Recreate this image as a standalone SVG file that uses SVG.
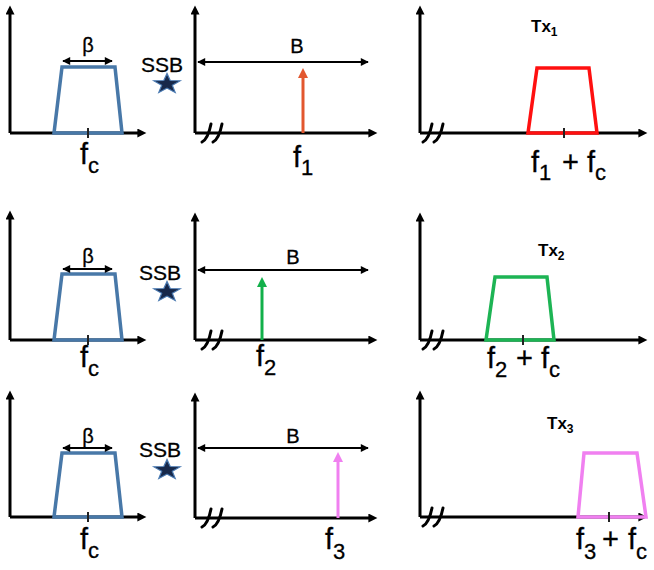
<svg xmlns="http://www.w3.org/2000/svg" xmlns:xlink="http://www.w3.org/1999/xlink" width="654" height="570" viewBox="0 0 654 570">
<style>
text{font-family:"Liberation Sans",Arial,sans-serif;fill:#000;stroke:#000;stroke-width:0.3}
.ax{stroke:#000;stroke-width:3;fill:none;marker-end:url(#axh)}
.dbl{stroke:#000;stroke-width:2;fill:none;marker-start:url(#dh);marker-end:url(#dh)}
.brk{stroke:#000;stroke-width:3;fill:none;stroke-linecap:round}
.tick{stroke:#222;stroke-width:2}
.trb{fill:none;stroke:#4878a8;stroke-width:3.5;stroke-linejoin:miter}
.fl{font-size:29px}
.sub{font-size:22px}
.ssb{font-size:21px}
.bl{font-size:20px}
.tx{font-size:17px;font-weight:bold;stroke-width:0}
.txs{font-size:12px}
.star{fill:#17284a;stroke:#4a7ab2;stroke-width:1.3}
</style>
<defs>
<marker id="axh" viewBox="0 0 10 10" refX="4" refY="5" markerWidth="10" markerHeight="9" markerUnits="userSpaceOnUse" orient="auto"><path d="M0,0 L10,5 L0,10 z" fill="#000"/></marker>
<marker id="dh" viewBox="0 0 10 10" refX="9" refY="5" markerWidth="9" markerHeight="8" markerUnits="userSpaceOnUse" orient="auto-start-reverse"><path d="M0,0 L10,5 L0,10 z" fill="#000"/></marker>
<marker id="hr" viewBox="0 0 10 10" refX="4" refY="5" markerWidth="11" markerHeight="10" markerUnits="userSpaceOnUse" orient="auto"><path d="M0,0 L10,5 L0,10 z" fill="#e2572f"/></marker>
<marker id="hg" viewBox="0 0 10 10" refX="4" refY="5" markerWidth="11" markerHeight="10" markerUnits="userSpaceOnUse" orient="auto"><path d="M0,0 L10,5 L0,10 z" fill="#12b04a"/></marker>
<marker id="hp" viewBox="0 0 10 10" refX="4" refY="5" markerWidth="11" markerHeight="10" markerUnits="userSpaceOnUse" orient="auto"><path d="M0,0 L10,5 L0,10 z" fill="#f080f0"/></marker>
<path id="brkp" class="brk" d="M-5,9 Q1,6 4,-9 M6,9 Q12,6 15,-9"/>
<polygon id="starp" class="star" points="0,-14 3.3,-4.5 13.3,-4.3 5.3,1.7 8.2,11.3 0,5.6 -8.2,11.3 -5.3,1.7 -13.3,-4.3 -3.3,-4.5"/>
</defs>

<!-- Row 1 -->
<g id="r1-baseband">
<path class="ax" d="M10,133 V11"/>
<path class="ax" d="M10,133 H141"/>
<polygon class="trb" points="54,133 62,67 115,67 122,133"/>
<line class="tick" x1="88" y1="128" x2="88" y2="138"/>
<line class="dbl" x1="63" y1="61" x2="112" y2="61"/>
<text class="bl" x="88" y="52" text-anchor="middle">β</text>
<text class="fl" x="80" y="164">f<tspan class="sub" dy="9">c</tspan></text>
</g>
<g id="r1-ssb">
<text class="ssb" x="141" y="72">SSB</text>
<use xlink:href="#starp" href="#starp" transform="translate(167,84) scale(1,0.75)"/>
</g>
<g id="r1-lo">
<path class="ax" d="M195,133 V11"/>
<path class="ax" d="M195,133 H372"/>
<use xlink:href="#brkp" href="#brkp" x="207" y="133"/>
<line class="dbl" x1="198" y1="62" x2="368" y2="62"/>
<text class="bl" x="297" y="53" text-anchor="middle">B</text>
<text class="fl" x="293" y="167">f<tspan class="sub" dy="8">1</tspan></text>
</g>
<g id="r1-tx">
<path class="ax" d="M420,133 V11"/>
<path class="ax" d="M420,133 H642"/>
<use xlink:href="#brkp" href="#brkp" x="428" y="133"/>
<polygon points="528,133 537,68 589,68 597,133" fill="none" stroke="#ff1010" stroke-width="3.5"/>
<line class="tick" x1="564" y1="128" x2="564" y2="138"/>
<text class="tx" x="531" y="32">Tx<tspan class="txs" dy="4">1</tspan></text>
<text class="fl" x="531" y="172">f<tspan class="sub" dy="8">1</tspan><tspan dy="-8" x="562">+</tspan><tspan x="587">f</tspan><tspan class="sub" dy="8">c</tspan></text>
</g>

<!-- Row 2 -->
<g id="r2-baseband">
<path class="ax" d="M10,340 V216"/>
<path class="ax" d="M10,340 H141"/>
<polygon class="trb" points="54,340 62,274 115,274 122,340"/>
<line class="tick" x1="88" y1="335" x2="88" y2="345"/>
<line class="dbl" x1="63" y1="269" x2="112" y2="269"/>
<text class="bl" x="88" y="263" text-anchor="middle">β</text>
<text class="fl" x="80" y="367">f<tspan class="sub" dy="9">c</tspan></text>
</g>
<g id="r2-ssb">
<text class="ssb" x="139" y="280">SSB</text>
<use xlink:href="#starp" href="#starp" transform="translate(167,292) scale(1,0.75)"/>
</g>
<g id="r2-lo">
<path class="ax" d="M195,340 V218"/>
<path class="ax" d="M195,340 H372"/>
<use xlink:href="#brkp" href="#brkp" x="207" y="340"/>
<line class="dbl" x1="198" y1="270" x2="368" y2="270"/>
<text class="bl" x="293" y="264" text-anchor="middle">B</text>
<text class="fl" x="256" y="366">f<tspan class="sub" dy="9">2</tspan></text>
</g>
<g id="r2-tx">
<path class="ax" d="M420,340 V218"/>
<path class="ax" d="M420,340 H642"/>
<use xlink:href="#brkp" href="#brkp" x="428" y="340"/>
<polygon points="486,340 495,277 547,277 554,340" fill="none" stroke="#1db454" stroke-width="3.5"/>
<line class="tick" x1="523" y1="335" x2="523" y2="345"/>
<text class="tx" x="538" y="256">Tx<tspan class="txs" dy="4">2</tspan></text>
<text class="fl" x="487" y="368">f<tspan class="sub" dy="9">2</tspan><tspan dy="-9" x="516">+</tspan><tspan x="541">f</tspan><tspan class="sub" dy="9">c</tspan></text>
</g>

<!-- Row 3 -->
<g id="r3-baseband">
<path class="ax" d="M10,517 V396"/>
<path class="ax" d="M10,517 H141"/>
<polygon class="trb" points="54,517 62,453 115,453 122,517"/>
<line class="tick" x1="88" y1="512" x2="88" y2="522"/>
<line class="dbl" x1="63" y1="448" x2="112" y2="448"/>
<text class="bl" x="88" y="443" text-anchor="middle">β</text>
<text class="fl" x="80" y="549">f<tspan class="sub" dy="9">c</tspan></text>
</g>
<g id="r3-ssb">
<text class="ssb" x="139" y="457">SSB</text>
<use xlink:href="#starp" href="#starp" transform="translate(167,470) scale(1,0.75)"/>
</g>
<g id="r3-lo">
<path class="ax" d="M195,518 V398"/>
<path class="ax" d="M195,518 H372"/>
<use xlink:href="#brkp" href="#brkp" x="207" y="518"/>
<line class="dbl" x1="198" y1="448" x2="368" y2="448"/>
<text class="bl" x="293" y="443" text-anchor="middle">B</text>
<text class="fl" x="325" y="549">f<tspan class="sub" dy="10">3</tspan></text>
</g>
<g id="r3-tx">
<path class="ax" d="M420,517 V396"/>
<path class="ax" d="M420,517 H642"/>
<use xlink:href="#brkp" href="#brkp" x="428" y="517"/>
<polygon points="578,517 584,453 637,453 646,517" fill="none" stroke="#f080f0" stroke-width="3.5"/>
<line class="tick" x1="609" y1="512" x2="609" y2="522"/>
<text class="tx" x="547" y="429">Tx<tspan class="txs" dy="4">3</tspan></text>
<text class="fl" x="576" y="549">f<tspan class="sub" dy="10">3</tspan><tspan dy="-10" x="602">+</tspan><tspan x="628">f</tspan><tspan class="sub" dy="10">c</tspan></text>
</g>

<g id="connectors">
<path d="M303,133 V74" stroke="#e2572f" stroke-width="3" fill="none" marker-end="url(#hr)"/>
<path d="M262,340 V283" stroke="#12b04a" stroke-width="3" fill="none" marker-end="url(#hg)"/>
<path d="M338,518 V458" stroke="#f080f0" stroke-width="3" fill="none" marker-end="url(#hp)"/>
</g>
</svg>
